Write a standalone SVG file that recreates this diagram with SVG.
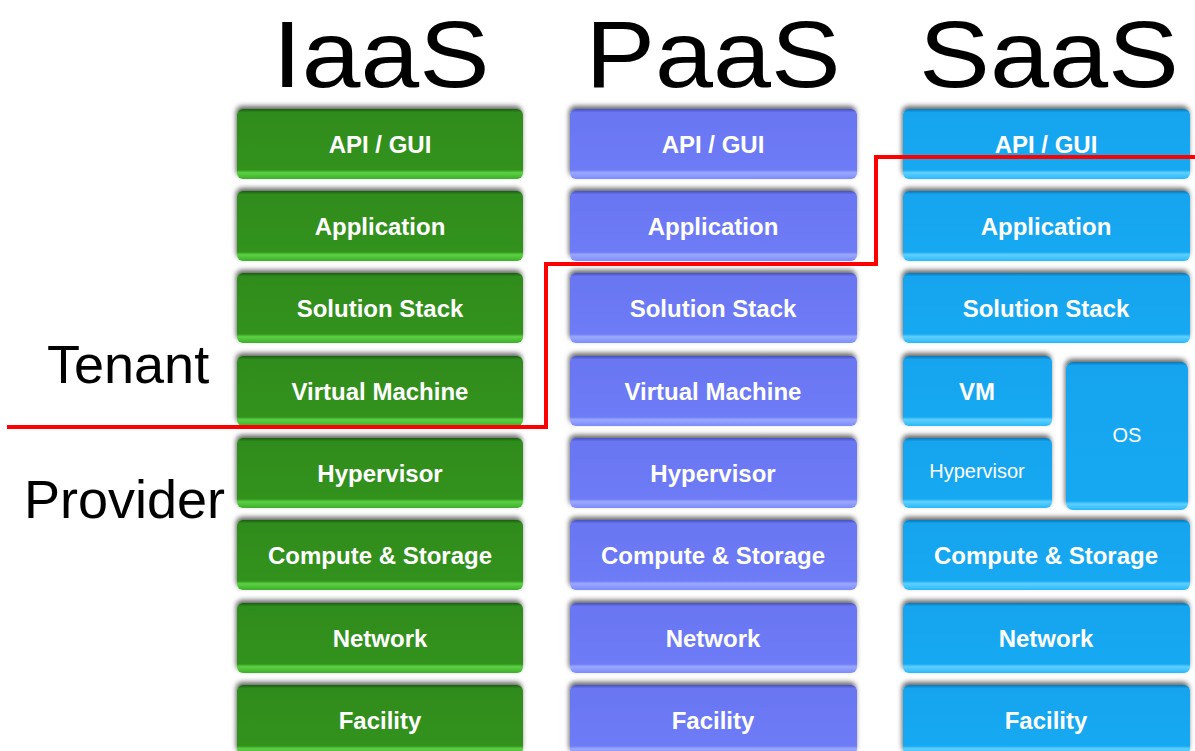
<svg xmlns="http://www.w3.org/2000/svg" width="1195" height="751" viewBox="0 0 1195 751">
<defs>
<filter id="sh" x="-10%" y="-20%" width="120%" height="140%">
<feDropShadow dx="-1" dy="-3" stdDeviation="2.5" flood-color="#000" flood-opacity="0.6"/>
</filter>
<linearGradient id="gG" x1="0" y1="0" x2="0" y2="1">
<stop offset="0" stop-color="#1c5e10"/><stop offset="0.05" stop-color="#2f8c1c"/><stop offset="0.87" stop-color="#33921f"/><stop offset="0.91" stop-color="#5bd243"/><stop offset="1" stop-color="#3fae2c"/>
</linearGradient>
<linearGradient id="gP" x1="0" y1="0" x2="0" y2="1">
<stop offset="0" stop-color="#4652c0"/><stop offset="0.05" stop-color="#6a76f2"/><stop offset="0.87" stop-color="#6e7bf6"/><stop offset="0.91" stop-color="#9aa8ff"/><stop offset="1" stop-color="#7d8bfb"/>
</linearGradient>
<linearGradient id="gB" x1="0" y1="0" x2="0" y2="1">
<stop offset="0" stop-color="#0a78b8"/><stop offset="0.05" stop-color="#15a4ee"/><stop offset="0.87" stop-color="#19a9f2"/><stop offset="0.91" stop-color="#5fd0ff"/><stop offset="1" stop-color="#2ab8f8"/>
</linearGradient>
<linearGradient id="gBT" x1="0" y1="0" x2="0" y2="1">
<stop offset="0" stop-color="#0a78b8"/><stop offset="0.025" stop-color="#15a4ee"/><stop offset="0.94" stop-color="#19a9f2"/><stop offset="0.96" stop-color="#5fd0ff"/><stop offset="1" stop-color="#2ab8f8"/>
</linearGradient>
</defs>
<style>
.t{font-family:"Liberation Sans",Arial,sans-serif;fill:#000;text-anchor:middle}
.h{font-size:95px}
.side{font-family:"Liberation Sans",Arial,sans-serif;font-size:54px;fill:#000}
.b{filter:url(#sh)}
.g{fill:url(#gG)}
.p{fill:url(#gP)}
.c{fill:url(#gB)}
.ct{fill:url(#gBT)}
.l{font-family:"Liberation Sans",Arial,sans-serif;font-size:24px;font-weight:bold;fill:#fff;text-anchor:middle}
.s{font-family:"Liberation Sans",Arial,sans-serif;font-size:20px;fill:#fff;text-anchor:middle}
.red{fill:none;stroke:#f00;stroke-width:4}
</style>
<rect width="1195" height="751" fill="#fff"/>
<g id="titles">
<text class="t h" x="381" y="87" textLength="217" lengthAdjust="spacingAndGlyphs">IaaS</text>
<text class="t h" x="713" y="87" textLength="255" lengthAdjust="spacingAndGlyphs">PaaS</text>
<text class="t h" x="1049" y="87" textLength="260" lengthAdjust="spacingAndGlyphs">SaaS</text>
</g>
<g id="iaas">
<g id="iaas-api"><rect class="b g" x="237" y="109" width="286" height="70" rx="6"/><text class="l" x="380" y="153">API / GUI</text></g>
<g id="iaas-app"><rect class="b g" x="237" y="191" width="286" height="70" rx="6"/><text class="l" x="380" y="235">Application</text></g>
<g id="iaas-ss"><rect class="b g" x="237" y="273" width="286" height="70" rx="6"/><text class="l" x="380" y="317">Solution Stack</text></g>
<g id="iaas-vm"><rect class="b g" x="237" y="356" width="286" height="70" rx="6"/><text class="l" x="380" y="400">Virtual Machine</text></g>
<g id="iaas-hv"><rect class="b g" x="237" y="438" width="286" height="70" rx="6"/><text class="l" x="380" y="482">Hypervisor</text></g>
<g id="iaas-cs"><rect class="b g" x="237" y="520" width="286" height="70" rx="6"/><text class="l" x="380" y="564">Compute &amp; Storage</text></g>
<g id="iaas-net"><rect class="b g" x="237" y="603" width="286" height="70" rx="6"/><text class="l" x="380" y="647">Network</text></g>
<g id="iaas-fac"><rect class="b g" x="237" y="685" width="286" height="70" rx="6"/><text class="l" x="380" y="729">Facility</text></g>
</g>
<g id="paas">
<g id="paas-api"><rect class="b p" x="570" y="109" width="287" height="70" rx="6"/><text class="l" x="713" y="153">API / GUI</text></g>
<g id="paas-app"><rect class="b p" x="570" y="191" width="287" height="70" rx="6"/><text class="l" x="713" y="235">Application</text></g>
<g id="paas-ss"><rect class="b p" x="570" y="273" width="287" height="70" rx="6"/><text class="l" x="713" y="317">Solution Stack</text></g>
<g id="paas-vm"><rect class="b p" x="570" y="356" width="287" height="70" rx="6"/><text class="l" x="713" y="400">Virtual Machine</text></g>
<g id="paas-hv"><rect class="b p" x="570" y="438" width="287" height="70" rx="6"/><text class="l" x="713" y="482">Hypervisor</text></g>
<g id="paas-cs"><rect class="b p" x="570" y="520" width="287" height="70" rx="6"/><text class="l" x="713" y="564">Compute &amp; Storage</text></g>
<g id="paas-net"><rect class="b p" x="570" y="603" width="287" height="70" rx="6"/><text class="l" x="713" y="647">Network</text></g>
<g id="paas-fac"><rect class="b p" x="570" y="685" width="287" height="70" rx="6"/><text class="l" x="713" y="729">Facility</text></g>
</g>
<g id="saas">
<g id="saas-api"><rect class="b c" x="903" y="109" width="287" height="70" rx="6"/><text class="l" x="1046" y="153">API / GUI</text></g>
<g id="saas-app"><rect class="b c" x="903" y="191" width="287" height="70" rx="6"/><text class="l" x="1046" y="235">Application</text></g>
<g id="saas-ss"><rect class="b c" x="903" y="273" width="287" height="70" rx="6"/><text class="l" x="1046" y="317">Solution Stack</text></g>
<g id="saas-vm"><rect class="b c" x="903" y="356" width="149" height="70" rx="6"/><text class="l" x="977" y="400">VM</text></g>
<g id="saas-hv"><rect class="b c" x="903" y="438" width="149" height="70" rx="6"/><text class="s" x="977" y="478">Hypervisor</text></g>
<g id="saas-os"><rect class="b ct" x="1066" y="362" width="122" height="148" rx="7"/><text class="s" x="1127" y="442">OS</text></g>
<g id="saas-cs"><rect class="b c" x="903" y="520" width="287" height="70" rx="6"/><text class="l" x="1046" y="564">Compute &amp; Storage</text></g>
<g id="saas-net"><rect class="b c" x="903" y="603" width="287" height="70" rx="6"/><text class="l" x="1046" y="647">Network</text></g>
<g id="saas-fac"><rect class="b c" x="903" y="685" width="287" height="70" rx="6"/><text class="l" x="1046" y="729">Facility</text></g>
</g>
<g id="labels">
<text class="side" x="47" y="383">Tenant</text>
<text class="side" x="24" y="518">Provider</text>
</g>
<g id="connectors">
<polyline class="red" points="7,427 546,427 546,264 876,264 876,157 1195,157"/>
</g>
</svg>
